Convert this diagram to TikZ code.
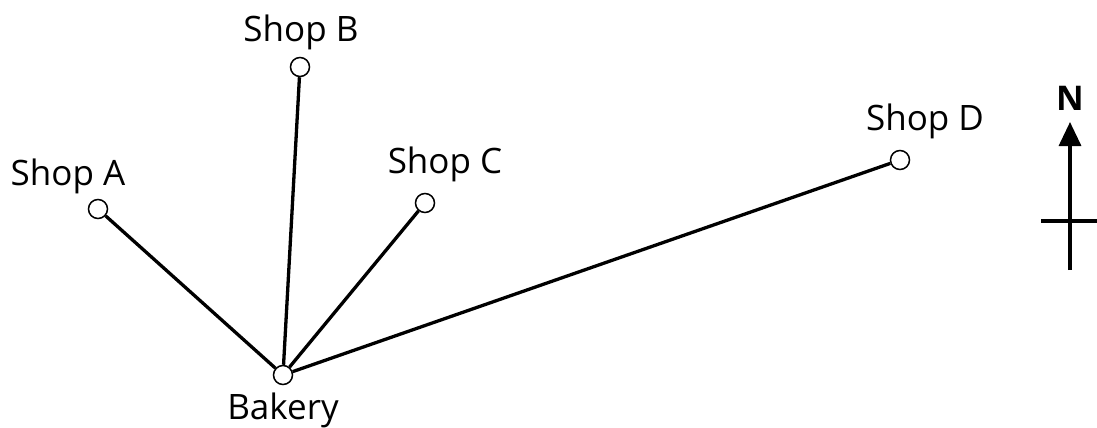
\documentclass[tikz,border=0pt]{standalone}
\usepackage{fontspec}
\setmainfont{Open Sans}
\usetikzlibrary{arrows.meta}
\begin{document}
\begin{tikzpicture}[x=1pt,y=-1pt,
  shop/.style={circle,draw,fill=white,line width=1.5pt,minimum size=19pt,inner sep=0pt},
  road/.style={line width=3.3pt},
  lbl/.style={font=\fontsize{35}{40}\selectfont,inner sep=0pt}]

	\useasboundingbox (0,0) rectangle (1097,428);

	\node[shop] (bakery) at (283,375) {}; \node[shop] (shopa) at (98,209) {};
	\node[shop] (shopb) at (300,67) {}; \node[shop] (shopc) at (425,203) {};
	\node[shop] (shopd) at (900,160) {};

	\draw[road] (bakery) -- (shopa); \draw[road] (bakery) -- (shopb);
	\draw[road] (bakery) -- (shopc); \draw[road] (bakery) -- (shopd);

	\node[lbl] (labela) at (68,176) {Shop A}; \node[lbl] (labelb) at (301,32) {Shop B};
	\node[lbl] (labelc) at (445,164) {Shop C}; \node[lbl] (labeld) at (925,121) {Shop D};
	\node[lbl] (labelbak) at (283,410) {Bakery};

	% compass
	\node[lbl,font=\fontsize{34}{40}\selectfont\bfseries] (north) at (1070,98) {N};
	\coordinate (tip) at (1070,122); \coordinate (foot) at (1070,270);
	\coordinate (west) at (1041,221); \coordinate (east) at (1097,221);
	\draw[road,-{Triangle[width=22pt,length=24pt]}] (foot) -- (tip);
	\draw[road] (west) -- (east);
      \end{tikzpicture}
\end{document}
